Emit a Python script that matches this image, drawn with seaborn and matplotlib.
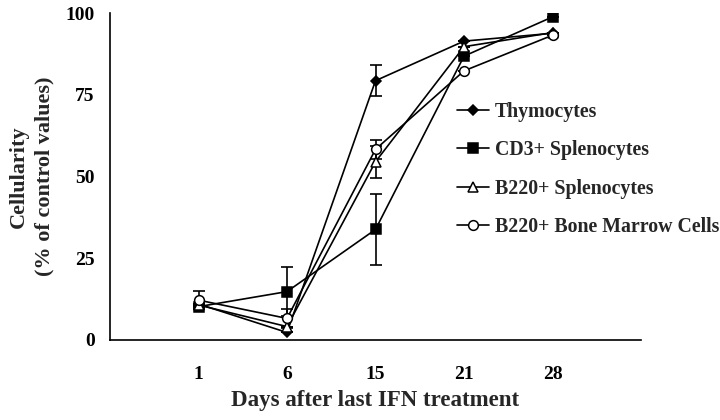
import numpy as np
import pandas as pd
import matplotlib
matplotlib.use("Agg")
import matplotlib.pyplot as plt
import seaborn as sns

days = ["1", "6", "15", "21", "28"]
series_names = ["Thymocytes", "CD3+ Splenocytes", "B220+ Splenocytes", "B220+ Bone Marrow Cells"]
thymocytes = [11.0, 2.3, 79.3, 91.4, 93.8]
cd3_spleno = [10.2, 14.8, 33.8, 86.8, 98.8]
b220_spleno = [10.7, 4.1, 54.5, 89.7, 94.0]
b220_marrow = [12.2, 6.6, 58.3, 82.3, 93.2]
thymocytes_err = [0, 0, 4.7, 0, 0]
cd3_spleno_err = [0, 7.6, 10.8, 0, 0]
b220_spleno_err = [0, 0, 4.9, 0, 0]
b220_marrow_err = [2.8, 3.0, 2.8, 0, 0]

sns.set_theme(style="white")
plt.rcParams["font.family"] = ["Liberation Serif", "DejaVu Serif"]
plt.rcParams["font.weight"] = "bold"

values = [thymocytes, cd3_spleno, b220_spleno, b220_marrow]
errors = [thymocytes_err, cd3_spleno_err, b220_spleno_err, b220_marrow_err]
rows = []
for name, vals in zip(series_names, values):
    for i, v in enumerate(vals):
        rows.append({"pos": i, "value": v, "series": name})
df = pd.DataFrame(rows)

markers = {"Thymocytes": "D", "CD3+ Splenocytes": "s",
           "B220+ Splenocytes": "^", "B220+ Bone Marrow Cells": "o"}
faces = {"Thymocytes": "black", "CD3+ Splenocytes": "black",
         "B220+ Splenocytes": "white", "B220+ Bone Marrow Cells": "white"}
sizes = {"Thymocytes": 5, "CD3+ Splenocytes": 6.5,
         "B220+ Splenocytes": 7, "B220+ Bone Marrow Cells": 7}

fig = plt.figure(figsize=(7.2, 4.2), dpi=100)
ax = fig.add_axes([110 / 720, 1 - 340 / 420, (641 - 110) / 720, (340 - 13) / 420])

# error bars first so markers sit on top
for name, vals, errs in zip(series_names, values, errors):
    x = np.arange(len(vals))
    ax.errorbar(x, vals, yerr=errs, fmt="none", ecolor="black",
                elinewidth=1.2, capsize=4, capthick=1.2, zorder=2)

for name in series_names:
    sub = df[df["series"] == name]
    sns.lineplot(data=sub, x="pos", y="value", ax=ax, color="black",
                 linewidth=1.2, marker=markers[name], markersize=sizes[name],
                 markerfacecolor=faces[name], markeredgecolor="black",
                 markeredgewidth=1.1, label=name, zorder=3)

ax.set_xlim(-1, 5)
ax.set_ylim(0, 100)
ax.set_xticks(np.arange(len(days)))
ax.set_xticklabels(days)
ax.set_xticks([5], minor=True)
ax.set_yticks([0, 25, 50, 75, 100])
for s in ["top", "right"]:
    ax.spines[s].set_visible(False)
for s in ["left", "bottom"]:
    ax.spines[s].set_color("black")
    ax.spines[s].set_linewidth(1.2)
ax.tick_params(axis="both", which="both", direction="out", color="black",
               width=1.2, labelsize=14, labelcolor="black")
ax.tick_params(axis="x", which="both", length=5, pad=14)
ax.tick_params(axis="y", length=5, pad=6)
for lab in ax.get_xticklabels() + ax.get_yticklabels():
    lab.set_fontweight("bold")

ax.set_xlabel("Days after last IFN treatment", fontsize=16.5, fontweight="bold", labelpad=5)
ax.set_ylabel("Cellularity\n(% of control values)", fontsize=16, fontweight="bold",
              labelpad=8, linespacing=1.35)

leg = ax.legend(loc="upper left", bbox_to_anchor=(449 / 720, 1 - 94 / 420),
                bbox_transform=fig.transFigure, frameon=False,
                prop={"size": 14.3, "weight": "bold"}, handlelength=1.6,
                handletextpad=0.3, labelspacing=0.93, borderaxespad=0)

fig.savefig("out.png", dpi=100, facecolor="white")
